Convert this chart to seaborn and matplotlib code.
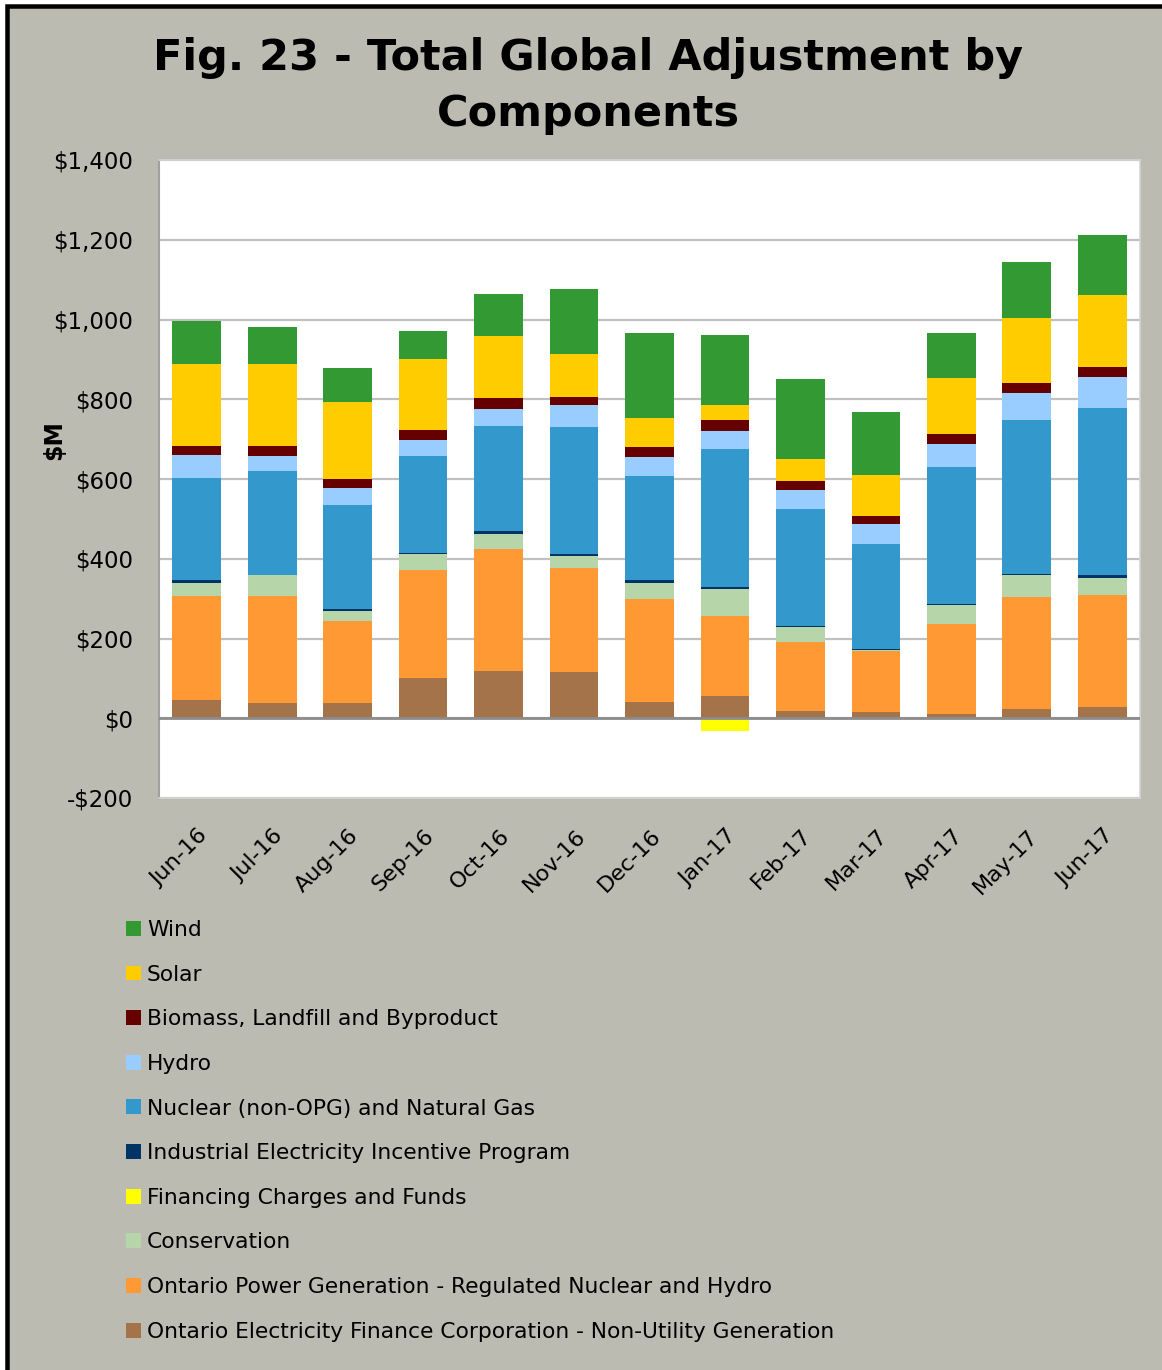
import matplotlib
matplotlib.use("Agg")
import matplotlib.pyplot as plt
import matplotlib.transforms as mtransforms
from matplotlib.patches import Patch, Rectangle
import seaborn as sns
import numpy as np

# ---------------- data ----------------
months = ["Jun-16", "Jul-16", "Aug-16", "Sep-16", "Oct-16", "Nov-16", "Dec-16",
          "Jan-17", "Feb-17", "Mar-17", "Apr-17", "May-17", "Jun-17"]

oefc = [46, 39, 39, 100, 119, 115, 40, 55, 17, 15, 10, 23, 27]
opg = [261, 268, 204, 272, 306, 263, 260, 201, 173, 153, 227, 282, 282]
conservation = [33, 51, 27, 40, 37, 28, 39, 69, 38, 2, 46, 53, 42]
financing = [0, 0, 0, -3, 0, 2, 0, -32, 0, 0, 0, 0, 0]
ieip = [7, 2, 4, 3, 8, 4, 7, 5, 3, 4, 4, 4, 8]
nuclear = [256, 259, 260, 243, 264, 319, 261, 345, 295, 262, 343, 386, 419]
hydro = [58, 38, 44, 40, 42, 54, 49, 45, 46, 50, 59, 67, 78]
biomass = [22, 25, 21, 24, 27, 20, 25, 27, 23, 21, 24, 27, 25]
solar = [206, 206, 195, 180, 156, 108, 72, 38, 54, 104, 140, 163, 181]
wind = [107, 94, 84, 70, 104, 163, 213, 176, 202, 158, 113, 140, 149]

# bottom-up stacking order
series_names = [
    "Ontario Electricity Finance Corporation - Non-Utility Generation",
    "Ontario Power Generation - Regulated Nuclear and Hydro",
    "Conservation",
    "Financing Charges and Funds",
    "Industrial Electricity Incentive Program",
    "Nuclear (non-OPG) and Natural Gas",
    "Hydro",
    "Biomass, Landfill and Byproduct",
    "Solar",
    "Wind",
]
series_values = [oefc, opg, conservation, financing, ieip, nuclear, hydro,
                 biomass, solar, wind]
series_colors = ["#A57349", "#FF9933", "#B6D5A8", "#FFFF00", "#003366",
                 "#3399CC", "#99CCFF", "#660000", "#FFCC00", "#339933"]

yticks = list(range(-200, 1401, 200))
ytick_labels = [("-$" if v < 0 else "$") + f"{abs(v):,}" for v in yticks]

title = "Fig. 23 - Total Global Adjustment by\nComponents"
ylabel = "$M"

# ---------------- style ----------------
BG = "#BBBBB2"
sns.set_theme(style="white")
plt.rcParams["font.family"] = ["DejaVu Sans"]
plt.rcParams["text.color"] = "black"
plt.rcParams["axes.labelcolor"] = "black"

W, H = 1162, 1370
fig = plt.figure(figsize=(W / 100, H / 100), dpi=100, facecolor="white")

# gray panel with black left/top border
panel = Rectangle((6.5 / W, -0.2), 1.5, 1.2 - 6.0 / H, transform=fig.transFigure,
                  facecolor=BG, edgecolor="black", linewidth=4.5 * 0.72, zorder=-10)
fig.patches.append(panel)

ax = fig.add_axes([159 / W, 1 - 798 / H, (1140 - 159) / W, (798 - 160) / H])
ax.set_facecolor("white")

# positive stack via cumulative overlay (draw top layer first)
pos_vals = [np.clip(np.array(v, dtype=float), 0, None) for v in series_values]
cum = np.cumsum(np.vstack(pos_vals), axis=0)
for i in range(len(series_names) - 1, -1, -1):
    sns.barplot(x=months, y=cum[i], order=months, color=series_colors[i],
                saturation=1, width=0.645, errorbar=None, linewidth=0,
                ax=ax, zorder=3)
# negative parts (Financing)
neg = np.clip(np.array(financing, dtype=float), None, 0)
sns.barplot(x=months, y=neg, order=months, color=series_colors[3],
            saturation=1, width=0.645, errorbar=None, linewidth=0, ax=ax, zorder=3)

ax.set_ylim(-200, 1400)
ax.set_xlim(-0.5, len(months) - 0.5)
ax.set_yticks(yticks)
ax.set_yticklabels(ytick_labels)
ax.yaxis.grid(True, color="#C0C0C0", linewidth=1.6)
ax.set_axisbelow(True)
ax.axhline(0, color="#8C8C8C", linewidth=2, zorder=4)

for s in ["top", "right", "bottom"]:
    ax.spines[s].set_color("#D4D4D4")
    ax.spines[s].set_linewidth(1.2)
ax.spines["left"].set_color("#A0A0A0")
ax.spines["left"].set_linewidth(1.5)

ax.tick_params(axis="y", length=0, pad=18.5, labelsize=16.5, labelcolor="black")
ax.tick_params(axis="x", length=0, pad=25, labelsize=16, labelcolor="black")
ax.set_xlabel("")
offset = mtransforms.ScaledTranslation(8 / 100, 0, fig.dpi_scale_trans)
for lab in ax.get_xticklabels():
    lab.set_rotation(45)
    lab.set_ha("right")
    lab.set_va("center")
    lab.set_rotation_mode("anchor")
    lab.set_transform(lab.get_transform() + offset)

ax.set_ylabel(ylabel, fontsize=17, fontweight="bold", color="black")
ax.yaxis.set_label_coords((66 - 159) / 981, (798 - 440) / 638)

fig.text(588 / W, 1 - 86 / H, title, ha="center", va="center",
         fontsize=31, fontweight="bold", color="black", linespacing=1.42)

# legend (top to bottom: Wind ... OEFC)
handles = [Patch(facecolor=series_colors[i], edgecolor="none")
           for i in range(len(series_names) - 1, -1, -1)]
labels = [series_names[i] for i in range(len(series_names) - 1, -1, -1)]
fs = 15.7
leg = fig.legend(handles, labels, loc="upper left",
                 bbox_to_anchor=(126 / W, 1 - 920 / H), bbox_transform=fig.transFigure,
                 frameon=False, fontsize=fs, handlelength=0.68, handleheight=0.68,
                 handletextpad=0.28, labelspacing=1.13, borderpad=0, borderaxespad=0)
for t in leg.get_texts():
    t.set_color("black")

fig.savefig("out.png", dpi=100, facecolor="white")
